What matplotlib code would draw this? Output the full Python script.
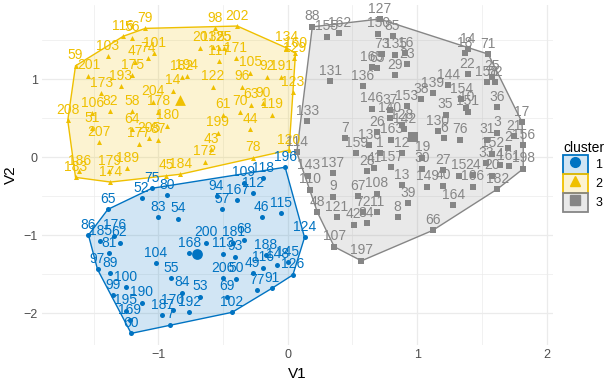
import matplotlib
matplotlib.use("Agg")
import matplotlib.pyplot as plt
from matplotlib.patches import Patch, Polygon
from matplotlib.lines import Line2D
from matplotlib.legend_handler import HandlerTuple

plt.rcParams['font.family'] = ['Liberation Sans', 'DejaVu Sans']

# cluster 1 (blue)
c1_labels = ["75", "52", "80", "65", "83", "54", "86", "185", "176", "62", "81", "97", "89",
             "100", "99", "190", "195", "169", "60", "187", "170", "104", "55", "196", "109",
             "118", "112", "94", "167", "57", "46", "115", "168", "200", "181", "68", "113",
             "93", "188", "116", "148", "145", "126", "206", "50", "49", "77", "91", "84",
             "53", "192", "69", "102", "7", "124"]
c1_x = [-1.05, -1.13, -0.93, -1.39, -1.00, -0.85, -1.54, -1.45, -1.34, -1.30, -1.38, -1.47, -1.37,
        -1.25, -1.35, -1.13, -1.25, -1.22, -1.21, -0.97, -0.89, -1.02, -0.90, -0.02, -0.34,
        -0.19, -0.27, -0.55, -0.39, -0.51, -0.20, -0.05, -0.76, -0.63, -0.42, -0.34, -0.50,
        -0.41, -0.17, -0.19, -0.08, 0.00, 0.04, -0.50, -0.40, -0.27, -0.24, -0.12, -0.82,
        -0.68, -0.76, -0.47, -0.43, -0.91, 0.13]
c1_y = [-0.40, -0.53, -0.49, -0.67, -0.77, -0.79, -1.00, -1.08, -1.01, -1.10, -1.23, -1.44, -1.49,
        -1.67, -1.77, -1.87, -1.97, -2.09, -2.26, -2.03, -1.96, -1.36, -1.55, -0.13, -0.33,
        -0.27, -0.46, -0.50, -0.55, -0.67, -0.77, -0.72, -1.23, -1.10, -1.10, -1.06, -1.24,
        -1.28, -1.26, -1.42, -1.38, -1.35, -1.51, -1.55, -1.56, -1.49, -1.71, -1.68, -1.74,
        -1.79, -1.99, -1.79, -1.99, -2.15, -1.03]

# cluster 2 (yellow)
c2_labels = ["79", "116", "56", "59", "103", "47", "74", "101", "175", "201", "173", "193", "82",
             "58", "204", "178", "14", "98", "202", "20", "132", "125", "55", "117", "171",
             "194", "182", "122", "96", "105", "92", "191", "123", "134", "160", "129", "63",
             "90", "61", "70", "119", "44", "199", "43", "172", "184", "45", "78", "120", "51",
             "207", "64", "205", "177", "87", "186", "183", "179", "174", "189", "208", "180",
             "106"]
c2_x = [-1.10, -1.27, -1.20, -1.64, -1.39, -1.18, -1.08, -1.03, -1.20, -1.54, -1.44, -1.29, -1.37,
        -1.20, -1.04, -1.00, -0.89, -0.56, -0.39, -0.68, -0.58, -0.53, -0.49, -0.53, -0.40,
        -0.78, -0.82, -0.58, -0.35, -0.29, -0.16, -0.05, 0.04, -0.01, 0.06, 0.05, -0.28,
        -0.19, -0.50, -0.37, -0.12, -0.29, -0.54, -0.59, -0.64, -0.83, -0.94, -0.27, 0.01, -1.51,
        -1.46, -1.20, -1.07, -1.15, -1.00, -1.61, -1.64, -1.38, -1.37, -1.24, -1.70, -0.93,
        -1.51]
c2_y = [1.65, 1.55, 1.53, 1.17, 1.29, 1.22, 1.27, 1.33, 1.05, 1.04, 0.82, 0.91, 0.59,
        0.59, 0.71, 0.58, 0.85, 1.65, 1.68, 1.40, 1.41, 1.40, 1.40, 1.23, 1.27,
        1.04, 1.03, 0.90, 0.90, 1.08, 1.03, 1.03, 0.83, 1.40, 1.33, 1.27, 0.67,
        0.69, 0.54, 0.58, 0.54, 0.36, 0.31, 0.10, -0.06, -0.22, -0.24, -0.01, 0.09, 0.37,
        0.19, 0.36, 0.24, 0.17, 0.22, -0.18, -0.26, -0.18, -0.32, -0.14, 0.47, 0.40,
        0.56]

# cluster 3 (gray)
c3_labels = ["88", "155", "162", "127", "150", "85", "73", "135", "16", "165", "65", "23", "29",
             "131", "136", "146", "37", "153", "38", "140", "128", "133", "14", "18", "71",
             "22", "25", "158", "52", "36", "144", "139", "154", "10", "35", "151", "17",
             "130", "6", "76", "31", "3", "21", "156", "152", "2", "33", "4", "161", "198",
             "20", "182", "24", "15", "166", "27", "40", "149", "164", "66", "19", "30",
             "7", "159", "138", "26", "163", "1", "12", "142", "157", "28", "41", "143",
             "137", "110", "9", "67", "108", "13", "39", "72", "11", "8", "48", "121", "42",
             "34", "107", "197", "114"]
c3_x = [0.19, 0.30, 0.40, 0.71, 0.70, 0.81, 0.73, 0.83, 0.91, 0.65, 0.69, 0.92, 0.83,
        0.33, 0.58, 0.65, 0.79, 0.92, 1.03, 0.79, 0.88, 0.15, 1.39, 1.37, 1.55,
        1.39, 1.58, 1.54, 1.60, 1.62, 1.24, 1.12, 1.34, 1.38, 1.22, 1.39, 1.81,
        1.16, 1.21, 1.33, 1.54, 1.62, 1.75, 1.82, 1.58, 1.70, 1.53, 1.64, 1.71, 1.82,
        1.58, 1.62, 1.43, 1.32, 1.43, 1.20, 1.20, 1.08, 1.28, 1.12, 1.04, 1.04,
        0.44, 0.53, 0.63, 0.69, 0.80, 0.71, 0.88, 0.90, 0.80, 0.61, 0.67, 0.16,
        0.35, 0.17, 0.35, 0.54, 0.69, 0.88, 0.93, 0.58, 0.69, 0.85, 0.23, 0.38, 0.51,
        0.61, 0.36, 0.57, 0.07]
c3_y = [1.67, 1.54, 1.59, 1.77, 1.58, 1.55, 1.32, 1.31, 1.33, 1.15, 1.14, 1.19, 1.05,
        0.97, 0.91, 0.62, 0.60, 0.65, 0.74, 0.50, 0.41, 0.46, 1.38, 1.33, 1.32,
        1.06, 1.03, 0.96, 0.96, 0.64, 0.92, 0.82, 0.74, 0.63, 0.54, 0.58, 0.45,
        0.33, 0.24, 0.22, 0.22, 0.31, 0.27, 0.15, 0.04, 0.12, -0.08, -0.10, -0.12, -0.15,
        -0.24, -0.41, -0.23, -0.24, -0.38, -0.17, -0.37, -0.38, -0.62, -0.94, -0.01, -0.15,
        0.24, 0.05, 0.15, 0.32, 0.22, 0.05, 0.05, 0.36, -0.13, -0.18, -0.14, -0.24,
        -0.21, -0.42, -0.51, -0.50, -0.47, -0.36, -0.59, -0.71, -0.71, -0.77, -0.71, -0.77, -0.87,
        -0.85, -1.15, -1.33, 0.06]

# cluster centres
centre_x = [-0.70, -0.83, 0.97]
centre_y = [-1.24, 0.73, 0.26]

cluster_names = ["1", "2", "3"]
colors = ["#0073C2", "#EFC000", "#868686"]
markers = ["o", "^", "s"]


def convex_hull(xs, ys):
    pts = sorted(set(zip(xs, ys)))

    def cross(o, a, b):
        return (a[0] - o[0]) * (b[1] - o[1]) - (a[1] - o[1]) * (b[0] - o[0])

    lower, upper = [], []
    for p in pts:
        while len(lower) >= 2 and cross(lower[-2], lower[-1], p) <= 0:
            lower.pop()
        lower.append(p)
    for p in reversed(pts):
        while len(upper) >= 2 and cross(upper[-2], upper[-1], p) <= 0:
            upper.pop()
        upper.append(p)
    return lower[:-1] + upper[:-1]


fig = plt.figure(figsize=(6.07, 3.83), dpi=100)
ax = fig.add_axes([0.069, 0.099, 0.842, 0.888])

clusters = [(c1_labels, c1_x, c1_y), (c2_labels, c2_x, c2_y), (c3_labels, c3_x, c3_y)]
for i, (labs, xs, ys) in enumerate(clusters):
    col = colors[i]
    hull = convex_hull(xs, ys)
    ax.add_patch(Polygon(hull, closed=True, facecolor=col, alpha=0.18, edgecolor="none", zorder=1))
    ax.add_patch(Polygon(hull, closed=True, fill=False, edgecolor=col, lw=1.0, zorder=2))
    ax.scatter(xs, ys, marker=markers[i], s=13, color=col, zorder=3, linewidths=0)
    for lab, x, y in zip(labs, xs, ys):
        ax.annotate(lab, (x, y), xytext=(0, 2.5), textcoords="offset points",
                    ha="center", va="bottom", fontsize=10, color=col, zorder=4)
    ax.scatter([centre_x[i]], [centre_y[i]], marker=markers[i], s=60, color=col,
               zorder=3, linewidths=0)

ax.set_xlim(-1.90, 2.05)
ax.set_ylim(-2.41, 1.95)
ax.set_xticks([-1, 0, 1, 2])
ax.set_yticks([-2, -1, 0, 1])
ax.set_xticks([-1.5, -0.5, 0.5, 1.5], minor=True)
ax.set_yticks([-1.5, -0.5, 0.5, 1.5], minor=True)
ax.grid(which="major", color="#EBEBEB", lw=0.9, zorder=0)
ax.grid(which="minor", color="#EBEBEB", lw=0.5, zorder=0)
ax.set_axisbelow(True)
for s in ax.spines.values():
    s.set_visible(False)
ax.tick_params(which="both", length=0, labelsize=9, labelcolor="#4D4D4D", pad=3)
ax.set_xlabel("V1", fontsize=11, labelpad=4)
ax.set_ylabel("V2", fontsize=11, labelpad=4)

handles = []
for i in range(3):
    box = Patch(facecolor=colors[i] + "2E", edgecolor=colors[i], lw=1.3)
    mk = Line2D([], [], marker=markers[i], color=colors[i], ls="none", markersize=7)
    handles.append((box, mk))
leg = ax.legend(handles, cluster_names, title="cluster", loc="upper left",
                bbox_to_anchor=(1.02, 0.60), frameon=False, fontsize=9,
                title_fontsize=10, handlelength=1.95, handleheight=1.95,
                labelspacing=0.0, handletextpad=0.6, borderaxespad=0, borderpad=0,
                handler_map={tuple: HandlerTuple(ndivide=1, pad=0)})
leg._legend_box.align = "left"

fig.savefig("out.png", dpi=100)
